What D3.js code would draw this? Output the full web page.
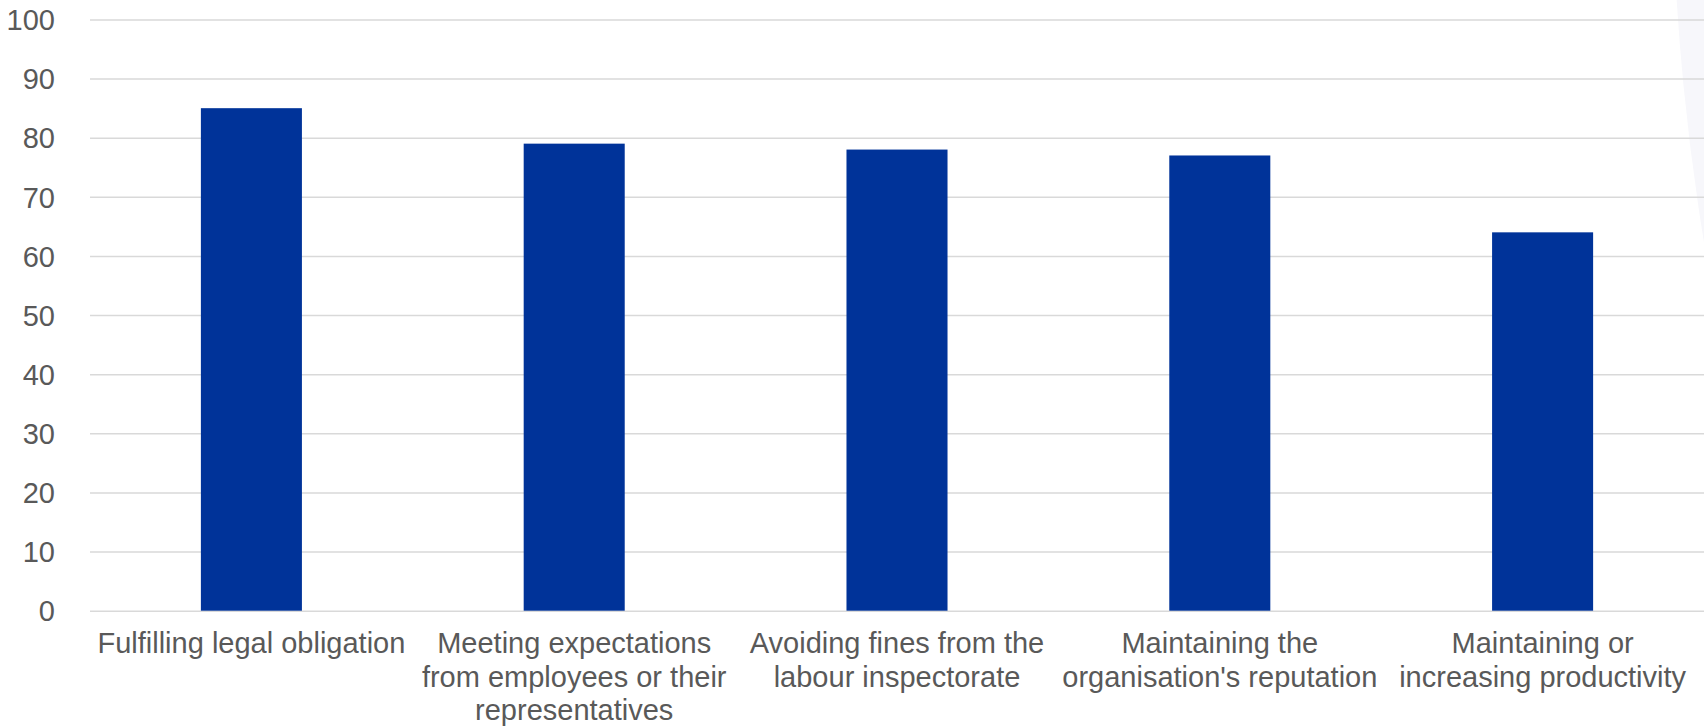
<!DOCTYPE html>
<html>
<head>
<meta charset="utf-8">
<script src="https://cdn.jsdelivr.net/npm/d3@7"></script>
<style>
  html, body { margin: 0; padding: 0; background: #ffffff; overflow: hidden; }
  svg { display: block; }
</style>
</head>
<body>
<svg id="chart" width="1704" height="727"></svg>
<script>
// Reasons for carrying out workplace risk assessments (% of establishments)
const categories = [
  "Fulfilling legal obligation",
  "Meeting expectations\nfrom employees or their\nrepresentatives",
  "Avoiding fines from the\nlabour inspectorate",
  "Maintaining the\norganisation's reputation",
  "Maintaining or\nincreasing productivity"
];
const values = [85, 79, 78, 77, 64];
const yTicks = [0, 10, 20, 30, 40, 50, 60, 70, 80, 90, 100];

const W = 1704, H = 727;
const plot = { left: 90, right: 1704, top: 19.5, bottom: 610.7 };
const font = "'Liberation Sans', Arial, sans-serif";
const textColor = "#595959";

const svg = d3.select("#chart");

// soft decorative disc bleeding in from the right edge
svg.append("circle")
  .attr("cx", 4093).attr("cy", -150).attr("r", 2421)
  .attr("fill", "#f7f7fb");

const x = d3.scaleBand()
  .domain(categories)
  .range([plot.left, plot.right])
  .paddingInner(0.687)
  .paddingOuter(0.3435);

const y = d3.scaleLinear()
  .domain([0, 100])
  .range([plot.bottom, plot.top]);

// horizontal gridlines with value labels
const yAxis = d3.axisLeft(y)
  .tickValues(yTicks)
  .tickSize(-(plot.right - plot.left))
  .tickPadding(35)
  .tickFormat(d3.format("d"));

const gy = svg.append("g")
  .attr("transform", `translate(${plot.left},0)`)
  .call(yAxis);
gy.select(".domain").remove();
gy.selectAll(".tick line")
  .attr("stroke", "#d9d9d9")
  .attr("stroke-width", 1.5);
gy.selectAll(".tick text")
  .attr("fill", textColor)
  .attr("font-family", font)
  .attr("font-size", 29)
  .attr("dy", "0.35em");

// bars
svg.append("g")
  .selectAll("rect")
  .data(values)
  .join("rect")
  .attr("x", (d, i) => x(categories[i]))
  .attr("width", x.bandwidth())
  .attr("y", d => y(d))
  .attr("height", d => y(0) - y(d))
  .attr("fill", "#003399");

// category labels, wrapped over several lines
const xAxis = d3.axisBottom(x).tickSize(0).tickFormat("");
const gx = svg.append("g")
  .attr("transform", `translate(0,${plot.bottom})`)
  .call(xAxis);
gx.select(".domain").remove();

gx.selectAll(".tick").each(function(d) {
  const t = d3.select(this).append("text")
    .attr("fill", textColor)
    .attr("font-family", font)
    .attr("font-size", 29)
    .attr("text-anchor", "middle")
    .attr("y", 42.5);
  d.split("\n").forEach((line, k) => {
    t.append("tspan")
      .attr("x", 0)
      .attr("dy", k === 0 ? 0 : 33.5)
      .text(line);
  });
});
</script>
</body>
</html>
